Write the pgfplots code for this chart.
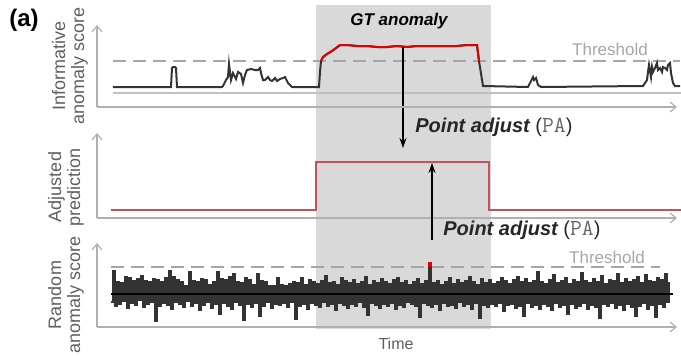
\documentclass[border=0pt]{standalone}
\usepackage{fontspec}
\setmainfont{Liberation Sans}
\usepackage{pgfplots}
\pgfplotsset{compat=1.18}
\usepackage{pgfplotstable}
\usetikzlibrary{arrows.meta}

\definecolor{shade}{HTML}{D9D9D9}
\definecolor{axgray}{HTML}{B0B0B0}
\definecolor{labgray}{HTML}{5F5F5F}
\definecolor{thrgray}{HTML}{A6A6A6}
\definecolor{series}{HTML}{333333}
\definecolor{gtred}{HTML}{E00000}
\definecolor{adjred}{HTML}{C8505A}

% panel 1: informative anomaly score
\pgfplotstableread[row sep=\\]{
x y\\ 16 20\\ 74 20\\ 75 39\\ 76 40\\ 78 40\\ 79 39\\ 80 20\\ 125 20\\
126 21\\ 129 27\\ 131 30\\ 132 43\\ 134 27\\ 136 34\\ 139 28\\ 141 35\\ 144 33\\ 146 24\\
148 32\\ 150 37\\ 154 38\\ 158 37\\ 161 37\\ 163 39\\ 164 34\\ 166 27\\ 168 27\\ 171 30\\
173 27\\ 175 26\\ 178 29\\ 180 26\\ 183 28\\ 186 29\\ 188 30\\ 191 24\\ 195 20\\
222 20\\ 223 35\\ 224 46\\ 226 50\\ 230 53\\ 235 56\\ 243 62\\ 250 62\\ 260 61\\ 270 61\\
280 60\\ 290 60\\ 300 61\\ 310 60\\ 320 61\\ 330 61\\ 340 61\\ 350 61\\ 360 61\\ 370 62\\
375 62\\ 380 62\\ 382 46\\ 386 21\\ 431 20\\ 436 30\\ 437 27\\ 439 29\\ 441 22\\ 444 20\\
546 21\\ 550 27\\ 551 35\\ 552 42\\ 554 30\\ 555 40\\ 556 35\\ 558 39\\ 560 44\\ 561 37\\
563 39\\ 565 35\\ 566 40\\ 568 39\\ 570 37\\ 571 42\\ 573 44\\ 574 34\\ 576 24\\ 578 21\\ 583 21\\
}\infotable

% part of it above the threshold
\pgfplotstableread[row sep=\\]{
x y\\ 224 46\\ 226 50\\ 230 53\\ 235 56\\ 243 62\\ 250 62\\ 260 61\\ 270 61\\ 280 60\\
290 60\\ 300 61\\ 310 60\\ 320 61\\ 330 61\\ 340 61\\ 350 61\\ 360 61\\ 370 62\\ 375 62\\
380 62\\ 382 46\\
}\gttable

% panel 2: adjusted prediction
\pgfplotstableread[row sep=\\]{
x y\\ 14 8\\ 219 8\\ 219 56\\ 392 56\\ 392 8\\ 584 8\\
}\adjtable

% panel 3: random anomaly score (one sample every 2 time units)
\pgfplotstableread[row sep=\\]{
d\\
-8\\ 23\\ -12\\ 12\\ -10\\ 11\\ -7\\ 17\\ -14\\ 16\\ -9\\ 13\\ -11\\ 15\\ -6\\ 18\\ -13\\ 13\\ -10\\ 12\\
-8\\ 15\\ -27\\ 14\\ -12\\ 12\\ -9\\ 16\\ -11\\ 23\\ -15\\ 17\\ -8\\ 14\\ -10\\ 12\\ -13\\ 8\\ -7\\ 22\\
-12\\ 13\\ -9\\ 12\\ -16\\ 15\\ -11\\ 14\\ -8\\ 9\\ -14\\ 12\\ -10\\ 22\\ -20\\ 15\\ -9\\ 14\\ -12\\ 17\\
-15\\ 20\\ -8\\ 12\\ -11\\ 11\\ -26\\ 16\\ -10\\ 14\\ -13\\ 9\\ -9\\ 20\\ -22\\ 13\\ -12\\ 12\\ -8\\ 8\\
-14\\ 8\\ -10\\ 16\\ -11\\ 9\\ -9\\ 8\\ -13\\ 10\\ -8\\ 12\\ -25\\ 11\\ -12\\ 16\\ -10\\ 9\\ -15\\ 14\\
-9\\ 12\\ -11\\ 10\\ -13\\ 13\\ -8\\ 18\\ -12\\ 11\\ -10\\ 12\\ -16\\ 9\\ -9\\ 16\\ -11\\ 13\\ -14\\ 11\\
-10\\ 14\\ -12\\ 10\\ -8\\ 12\\ -13\\ 17\\ -21\\ 9\\ -9\\ 13\\ -11\\ 11\\ -14\\ 15\\ -10\\ 12\\ -12\\ 10\\
-9\\ 14\\ -15\\ 16\\ -11\\ 11\\ -13\\ 13\\ -8\\ 9\\ -10\\ 12\\ -12\\ 15\\ -23\\ 10\\ -9\\ 13\\ -11\\ 31\\
-13\\ 11\\ -10\\ 13\\ -16\\ 9\\ -9\\ 12\\ -12\\ 16\\ -11\\ 10\\ -14\\ 14\\ -8\\ 11\\ -12\\ 13\\ -10\\ 17\\
-15\\ 12\\ -9\\ 9\\ -24\\ 15\\ -11\\ 11\\ -13\\ 14\\ -10\\ 10\\ -12\\ 12\\ -9\\ 16\\ -17\\ 13\\ -11\\ 10\\
-10\\ 14\\ -14\\ 17\\ -12\\ 12\\ -22\\ 15\\ -9\\ 11\\ -13\\ 13\\ -11\\ 22\\ -15\\ 12\\ -10\\ 10\\ -12\\ 14\\
-16\\ 19\\ -9\\ 11\\ -13\\ 13\\ -11\\ 16\\ -20\\ 10\\ -10\\ 14\\ -14\\ 12\\ -12\\ 21\\ -9\\ 13\\ -15\\ 11\\
-11\\ 15\\ -13\\ 12\\ -24\\ 18\\ -10\\ 10\\ -12\\ 14\\ -9\\ 13\\ -14\\ 20\\ -11\\ 11\\ -16\\ 15\\ -10\\ 12\\
-13\\ 14\\ -22\\ 17\\ -12\\ 11\\ -9\\ 19\\ -15\\ 13\\ -11\\ 12\\ -23\\ 16\\ -10\\ 14\\ -13\\ 20\\ -8\\ 12\\
}\noisetable

\pgfplotsset{panel/.style={
  scale only axis, clip=false,
  width=290pt,
  xmin=0, xmax=580,
  axis lines=left,
  x axis line style={draw=axgray, line width=0.6pt, -{Straight Barb[length=3pt,width=5pt]}},
  y axis line style={draw=axgray, line width=0.6pt, -{Straight Barb[length=3pt,width=5pt]}},
  xtick=\empty, ytick=\empty,
  anchor=south west,
}}

\newcommand{\PAtext}{{\fontsize{10}{12}\selectfont\bfseries\itshape Point adjust }{\fontsize{10}{12}\selectfont(}{\fontsize{11.5}{12}\selectfont\color{black!60}\texttt{PA}}{\fontsize{10}{12}\selectfont)}}

\begin{document}
\begin{tikzpicture}
\path[use as bounding box] (0,0) rectangle (340.5pt,177.5pt);

% ---------- panel 1 ----------
\begin{axis}[panel, at={(48.5pt,124pt)}, height=41pt, ymin=0, ymax=82, axis on top]
\addplot[fill=shade, draw=none] coordinates {(219,-222) (394,-222) (394,102) (219,102)};
\addplot[color=axgray!80, line width=0.6pt] coordinates {(16,14) (584,14)};
\addplot[color=thrgray, line width=0.9pt, dash pattern=on 6.5pt off 3.5pt] coordinates {(16,46) (583,46)};
\addplot[color=series, line width=1pt] table[x=x, y=y] {\infotable};
\addplot[color=gtred, line width=1pt] table[x=x, y=y] {\gttable};
\node[font=\fontsize{8.5}{10}\selectfont\bfseries\itshape] at (302,86) {GT anomaly};
\node[font=\fontsize{8.5}{10}\selectfont, text=thrgray] at (513,58) {Threshold};
\node[rotate=90, align=center, text=labgray, font=\fontsize{9}{9.5}\selectfont] at (-27,41) {Informative\\anomaly score};
\node[font=\fontsize{12}{12}\selectfont\bfseries] at (-73,87) {(a)};
\addplot[color=black, line width=0.6pt, -{Stealth[length=5pt,width=3.5pt]}] coordinates {(306,60) (306,-41)};
\node[anchor=west, text=black!85, inner sep=0pt] at (318,-20) {\PAtext};
\end{axis}

% ---------- panel 2 ----------
\begin{axis}[panel, at={(48.5pt,68.5pt)}, height=42.5pt, ymin=0, ymax=85]
\addplot[color=adjred, line width=1pt] table[x=x, y=y] {\adjtable};
\node[rotate=90, align=center, text=labgray, font=\fontsize{9}{9.5}\selectfont] at (-31,31) {Adjusted\\prediction};
\addplot[color=black, line width=0.6pt, -{Stealth[length=5pt,width=3.5pt]}] coordinates {(335,-22) (335,55)};
\node[anchor=west, text=black!85, inner sep=0pt] at (346,-12) {\PAtext};
\end{axis}

% ---------- panel 3 ----------
\begin{axis}[panel, at={(48.5pt,14pt)}, height=42pt, ymin=-33, ymax=51]
\addplot[color=thrgray, line width=0.9pt, dash pattern=on 6.5pt off 3.5pt] coordinates {(14,27) (563,27)};
\addplot[const plot, color=series, line width=1pt] table[x expr=\coordindex*2+14, y=d] {\noisetable};
\addplot[color=black, line width=0.6pt] coordinates {(14,0) (576,0)};
\addplot[fill=gtred, draw=none] coordinates {(331,27) (335,27) (335,32) (331,32)};
\node[font=\fontsize{8.5}{10}\selectfont, text=thrgray] at (510,37) {Threshold};
\node[rotate=90, align=center, text=labgray, font=\fontsize{9}{9.5}\selectfont] at (-31,-1) {Random\\anomaly score};
\node[font=\fontsize{8}{10}\selectfont, text=labgray] at (299,-50) {Time};
\end{axis}
\end{tikzpicture}
\end{document}
